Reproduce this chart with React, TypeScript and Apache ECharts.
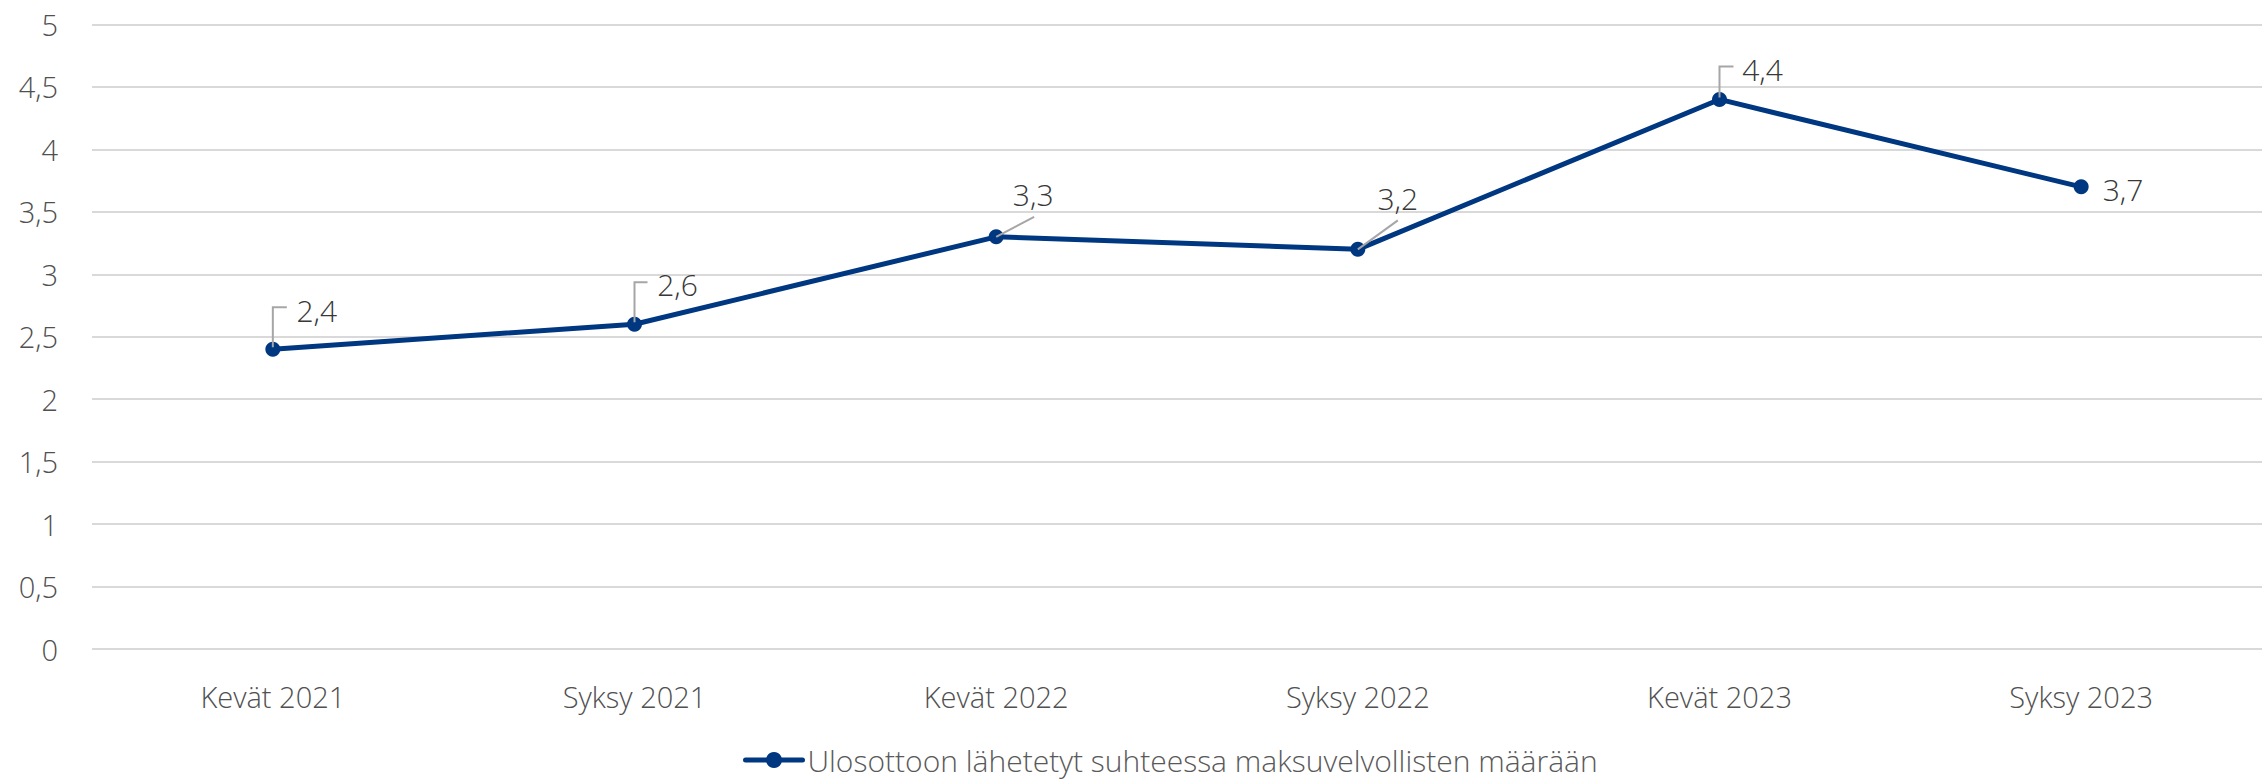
import React, { useEffect, useRef } from "react";
import * as echarts from "echarts";

const categories = ["Kevät 2021", "Syksy 2021", "Kevät 2022", "Syksy 2022", "Kevät 2023", "Syksy 2023"];
const values = [2.4, 2.6, 3.3, 3.2, 4.4, 3.7];
const seriesName = "Ulosottoon lähetetyt suhteessa maksuvelvollisten määrään";
const yTicks = { min: 0, max: 5, interval: 0.5 };

// label placement (pixel offsets from point) and leader line shapes
const labelOffsets: ([number, number] | null)[] = [
  [44, -39],
  [43, -40],
  [37, -42],
  [40, -51],
  [43, -30],
  null,
];
const leaderShapes: number[][][] = [
  [[0, -2], [0, -42], [14, -42]],
  [[0, -2], [0, -42], [13, -42]],
  [[0, 0], [38, -20]],
  [[0, 0], [40, -29]],
  [[0, -2], [0, -33], [14, -33]],
  [],
];

const FONT = "'Open Sans', 'Noto Sans', sans-serif";
const fmt = (v: number) => String(v).replace(".", ",");

export default function App() {
  const ref = useRef<HTMLDivElement>(null);
  useEffect(() => {
    if (!ref.current) return;
    const chart = echarts.init(ref.current, undefined, { renderer: "svg" });
    const option: any = {
      animation: false,
      backgroundColor: "#ffffff",
      grid: { left: 92, right: -8, top: 24.5, bottom: 134, containLabel: false },
      legend: {
        show: true,
        left: 738,
        top: 738,
        itemWidth: 57,
        itemHeight: 20,
        itemStyle: { color: "#003781" },
        lineStyle: { color: "#003781", width: 5, cap: "round" },
        textStyle: { fontFamily: FONT, fontSize: 30, fontWeight: 300, color: "#595959", lineHeight: 34 },
        data: [seriesName],
      },
      xAxis: {
        type: "category",
        data: categories,
        boundaryGap: true,
        axisLine: { show: false },
        axisTick: { show: false },
        axisLabel: { margin: 33, fontFamily: FONT, fontSize: 29, fontWeight: 300, color: "#505050" },
      },
      yAxis: {
        type: "value",
        min: yTicks.min,
        max: yTicks.max,
        interval: yTicks.interval,
        axisLine: { show: false },
        axisTick: { show: false },
        splitLine: { lineStyle: { color: "#d9d9d9", width: 2 } },
        axisLabel: {
          margin: 34,
          fontFamily: FONT,
          fontSize: 29,
          fontWeight: 300,
          color: "#505050",
          formatter: (v: number) => fmt(v),
        },
      },
      series: [
        {
          name: seriesName,
          type: "line",
          data: values.map((v, i) => {
            const off = labelOffsets[i];
            return {
              value: v,
              label: off
                ? { position: "inside", offset: off, align: "center", verticalAlign: "middle" }
                : { position: "right", distance: 14, offset: [0, 3] },
            };
          }),
          symbol: "circle",
          symbolSize: 15,
          lineStyle: { color: "#003781", width: 5 },
          itemStyle: { color: "#003781" },
          label: {
            show: true,
            fontFamily: FONT,
            fontSize: 30,
            fontWeight: 300,
            color: "#383838",
            formatter: (p: any) => fmt(p.value),
          },
          z: 2,
        },
      ],
    };
    chart.setOption(option);
    const graphics: any[] = [];
    values.forEach((v, i) => {
      const shape = leaderShapes[i];
      if (!shape || shape.length < 2) return;
      const pt = chart.convertToPixel({ gridIndex: 0 }, [i, v]) as number[];
      graphics.push({
        type: "polyline",
        z: 100,
        shape: { points: shape.map(([dx, dy]) => [pt[0] + dx, pt[1] + dy]) },
        style: { stroke: "#a6a6a6", lineWidth: 2, fill: "none" },
        silent: true,
      });
    });
    chart.setOption({ graphic: graphics });
    return () => chart.dispose();
  }, []);
  return (
    <div
      ref={ref}
      style={{ position: "fixed", left: 0, top: 0, width: 2262, height: 783, background: "#fff" }}
    />
  );
}
